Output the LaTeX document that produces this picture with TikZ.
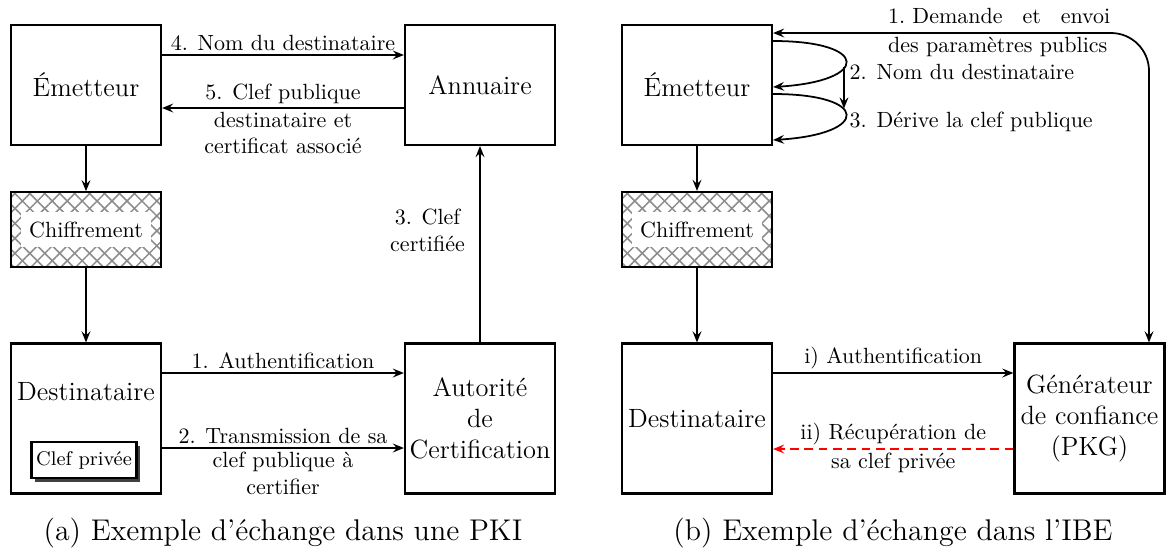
\documentclass[tikz,border=0pt]{standalone}
\usetikzlibrary{arrows.meta,patterns.meta,shadows}
\newcommand\pxu[1]{#1*0.4545pt}
\begin{document}
\begin{tikzpicture}[x=0.4545pt,y=-0.4545pt,
  box/.style={draw,line width=1pt,inner sep=1pt,minimum width=\pxu{150},font=\large,align=center},
  topbox/.style={box,minimum height=\pxu{120}},
  botbox/.style={box,minimum height=\pxu{150}},
  hbox/.style={draw,line width=1pt,minimum width=\pxu{150},minimum height=\pxu{75},
     preaction={pattern={Lines[angle=45,distance=4.8pt,line width=0.7pt]},pattern color=black!45},
     pattern={Lines[angle=-45,distance=4.8pt,line width=0.7pt]},pattern color=black!45},
  htext/.style={fill=white,inner xsep=3.5pt,inner ysep=4.5pt,font=\normalsize},
  priv/.style={draw,line width=1pt,fill=white,font=\small,minimum width=\pxu{105},minimum height=\pxu{36},inner sep=1pt,
     drop shadow={shadow xshift=1.7pt,shadow yshift=-1.7pt,fill=black!75,opacity=1}},
  lbl/.style={font=\normalsize,inner sep=1.5pt,align=center},
  arr/.style={line width=0.8pt,-{Stealth[length=5pt,width=4pt,inset=1.8pt]}},
  darr/.style={line width=0.8pt,{Stealth[length=5pt,width=4pt,inset=1.8pt]}-{Stealth[length=5pt,width=4pt,inset=1.8pt]}},
  captext/.style={font=\fontsize{13.6}{16}\selectfont}
]
\useasboundingbox (0,0) rectangle (1167,552);
% ---------- (a) ----------
\node[topbox] (emA) at (86,85) {Émetteur};
\node[topbox] (annA) at (480,85) {Annuaire};
\node[hbox] (chA) at (86,229.5) {};
\node[htext] (chAt) at (chA) {Chiffrement};
\node[botbox] (destA) at (86,418.5) {};
\node[font=\large] (destAt) at (86,392) {Destinataire};
\node[priv] (privA) at (84,460) {Clef privée};
\node[botbox] (autA) at (480,418.5) {Autorité\\de\\Certification};

\draw[arr] ([yshift=\pxu{30}]emA.east) -- ([yshift=\pxu{30}]annA.west)
   node[midway,above,lbl] {4. Nom du destinataire};
\draw[arr] ([yshift=-\pxu{23}]annA.west) -- ([yshift=-\pxu{23}]emA.east)
   node[midway,above,lbl] {5. Clef publique}
   node[midway,below,lbl] {destinataire et\\certificat associé};
\draw[arr] (emA) -- (chA);
\draw[arr] (chA) -- (destA);
\draw[arr] ([yshift=\pxu{45.5}]destA.east) -- ([yshift=\pxu{45.5}]autA.west)
   node[midway,above,lbl] {1. Authentification};
\draw[arr] ([yshift=-\pxu{29.5}]destA.east) -- ([yshift=-\pxu{29.5}]autA.west)
   node[midway,above,lbl] {2. Transmission de sa}
   node[midway,below,lbl] {clef publique à\\certifier};
\draw[arr] (autA) -- (annA)
   node[pos=0.57,left=5pt,lbl] {3. Clef\\certifiée};

\node[captext] (capA) at (283,533) {(a) Exemple d'échange dans une PKI};

% ---------- (b) ----------
\node[topbox] (emB) at (697,85) {Émetteur};
\node[hbox] (chB) at (697,229.5) {};
\node[htext] (chBt) at (chB) {Chiffrement};
\node[botbox] (destB) at (697,418.5) {Destinataire};
\node[botbox] (genB) at (1089.5,418.5) {Générateur\\de confiance\\(PKG)};

\draw[arr] (emB) -- (chB);
\draw[arr] (chB) -- (destB);
\draw[arr] ([yshift=\pxu{45.5}]destB.east) -- ([yshift=\pxu{45.5}]genB.west)
   node[midway,above,lbl] {i) Authentification};
\draw[arr,red,dash pattern=on 4pt off 2.5pt] ([yshift=-\pxu{30.5}]genB.west) -- ([yshift=-\pxu{30.5}]destB.east)
   node[midway,above,lbl,text=black] {ii) Récupération de}
   node[midway,below,lbl,text=black] {sa clef privée};

\draw[darr,rounded corners=\pxu{38}] ([yshift=\pxu{52}]emB.east) -| ([xshift=\pxu{59.5}]genB.north);
\node[lbl,text width=101pt,align=left,anchor=east] (lblB1) at (1114,32.5)
   {1.\ Demande\hfill et\hfill envoi\\[1pt]des paramètres publics};

\draw[arr] ([yshift=\pxu{44}]emB.east) .. controls +(97,0) and +(97,-6) .. ([yshift=-\pxu{2}]emB.east)
   coordinate[pos=0.58] (l1);
\draw[arr] ([yshift=-\pxu{9}]emB.east) .. controls +(97,0) and +(97,-6) .. ([yshift=-\pxu{55}]emB.east)
   coordinate[pos=0.4] (l2);
\draw[arr] (l1) -- (l1 |- l2);
\node[lbl,anchor=west] (lblB2) at (846,72) {2. Nom du destinataire};
\node[lbl,anchor=west] (lblB3) at (846,122) {3. Dérive la clef publique};

\node[captext] (capB) at (893,533) {(b) Exemple d'échange dans l'IBE};
\end{tikzpicture}
\end{document}
